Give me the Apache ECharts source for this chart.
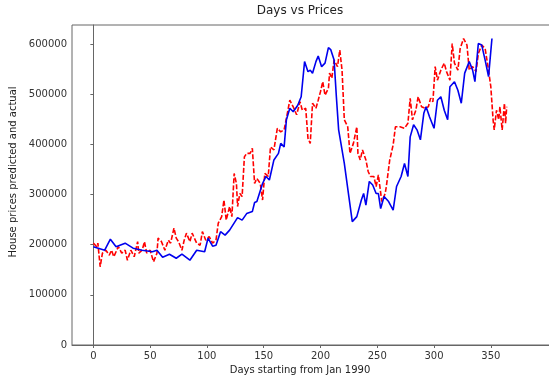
<!DOCTYPE html>
<html>
<head>
<meta charset="utf-8">
<script src="https://cdn.jsdelivr.net/npm/echarts@6/dist/echarts.min.js"></script>
<style>
html, body { margin: 0; padding: 0; background: #fff; }
#chart { width: 549px; height: 383px; }
</style>
</head>
<body>
<div id="chart"></div>
<script>
// [day, price]
var actualDays = [0, 10, 15, 20, 28, 35, 43, 52, 56, 61, 67, 73, 78, 85, 91, 98, 101, 105, 108, 112, 116, 120, 127, 131, 135, 140, 142, 144, 149, 152, 155, 159, 163, 165, 168, 170, 173, 176, 180, 183, 186, 189, 191, 193, 196, 198, 201, 204, 207, 209, 212, 214, 216, 221, 225, 228, 232, 236, 238, 240, 243, 246, 249, 251, 253, 256, 260, 264, 267, 271, 274, 277, 279, 282, 285, 288, 291, 293, 296, 300, 303, 306, 309, 312, 314, 318, 321, 324, 327, 331, 334, 336, 339, 342, 345, 348, 351];
var actualPrices = [196000, 189000, 211000, 196000, 203000, 193000, 189000, 186000, 189000, 175000, 181000, 173000, 181000, 169000, 189000, 186000, 213000, 197000, 199000, 226000, 219000, 229000, 254000, 249000, 262000, 266000, 284000, 286000, 322000, 336000, 329000, 369000, 382000, 402000, 395000, 449000, 472000, 465000, 478000, 495000, 565000, 545000, 548000, 542000, 565000, 576000, 555000, 562000, 593000, 589000, 568000, 495000, 429000, 362000, 296000, 246000, 256000, 289000, 302000, 279000, 326000, 319000, 302000, 302000, 272000, 296000, 286000, 269000, 316000, 336000, 362000, 336000, 415000, 439000, 429000, 409000, 462000, 475000, 455000, 432000, 488000, 495000, 468000, 449000, 515000, 525000, 508000, 482000, 542000, 565000, 548000, 525000, 601000, 598000, 568000, 535000, 611000];

var predictedDays = [0, 3, 4, 6, 8, 11, 14, 16, 18, 22, 25, 28, 30, 33, 36, 39, 40, 43, 45, 47, 50, 53, 56, 57, 60, 63, 66, 68, 71, 73, 75, 78, 80, 82, 85, 87, 91, 94, 96, 99, 102, 105, 108, 110, 113, 115, 117, 120, 122, 124, 126, 127, 129, 131, 133, 135, 138, 140, 142, 144, 147, 149, 151, 154, 156, 159, 162, 165, 168, 170, 173, 176, 179, 182, 184, 187, 189, 191, 193, 196, 198, 200, 202, 204, 207, 208, 210, 212, 215, 217, 219, 221, 224, 226, 229, 232, 233, 235, 237, 240, 242, 244, 247, 249, 251, 254, 257, 258, 261, 264, 266, 270, 274, 277, 279, 281, 284, 286, 289, 292, 295, 297, 299, 301, 303, 306, 309, 311, 314, 316, 318, 321, 323, 326, 329, 331, 334, 337, 339, 342, 345, 348, 350, 352, 353, 355, 357, 358, 360, 362, 363, 364];
var predictedPrices = [203000, 196000, 203000, 156000, 183000, 189000, 179000, 189000, 176000, 196000, 183000, 189000, 169000, 189000, 176000, 206000, 183000, 189000, 206000, 183000, 189000, 166000, 183000, 213000, 206000, 189000, 209000, 203000, 233000, 213000, 206000, 189000, 209000, 223000, 206000, 223000, 203000, 199000, 226000, 209000, 216000, 203000, 209000, 243000, 256000, 289000, 249000, 276000, 256000, 342000, 322000, 276000, 302000, 296000, 375000, 382000, 382000, 392000, 322000, 332000, 322000, 289000, 342000, 336000, 395000, 389000, 432000, 425000, 429000, 452000, 488000, 475000, 459000, 485000, 468000, 472000, 412000, 402000, 482000, 472000, 488000, 505000, 525000, 498000, 512000, 542000, 532000, 568000, 555000, 588000, 548000, 449000, 435000, 382000, 402000, 435000, 382000, 369000, 389000, 369000, 346000, 336000, 336000, 316000, 339000, 286000, 302000, 316000, 369000, 399000, 435000, 435000, 432000, 442000, 492000, 449000, 468000, 495000, 475000, 472000, 475000, 492000, 485000, 555000, 528000, 548000, 562000, 545000, 528000, 601000, 562000, 548000, 591000, 611000, 598000, 548000, 555000, 545000, 581000, 598000, 591000, 548000, 515000, 449000, 429000, 468000, 449000, 475000, 429000, 482000, 442000, 475000];

var xTicks = [0, 50, 100, 150, 200, 250, 300, 350];
var yTicks = [0, 100000, 200000, 300000, 400000, 500000, 600000];

function pairs(xs, ys) {
    return xs.map(function (x, i) { return [x, ys[i]]; });
}

var myChart = echarts.init(document.getElementById('chart'));

var option = {
    backgroundColor: '#fff',
    animation: false,
    textStyle: { fontFamily: 'DejaVu Sans' },
    title: {
        text: 'Days vs Prices',
        left: 300,
        top: 5,
        padding: 0,
        textAlign: 'center',
        textStyle: { fontSize: 12, fontWeight: 'normal', color: '#222', fontFamily: 'DejaVu Sans' }
    },
    grid: {
        left: 72,
        top: 25,
        right: -2,
        bottom: 38,
        show: true,
        borderColor: '#666',
        borderWidth: 1,
        backgroundColor: 'transparent',
        outerBoundsMode: 'none'
    },
    xAxis: {
        type: 'value',
        min: -18.8,
        max: 403,
        name: 'Days starting from Jan 1990',
        nameLocation: 'middle',
        nameGap: 20,
        nameTextStyle: { fontSize: 10, color: '#222', padding: [0, 23, 0, 0] },
        axisLine: { show: true, lineStyle: { color: '#666', width: 1 } },
        axisTick: { show: true, length: 3, customValues: xTicks, lineStyle: { color: '#666' } },
        axisLabel: { customValues: xTicks, fontSize: 10, color: '#333', margin: 6 },
        splitLine: { show: false }
    },
    yAxis: {
        type: 'value',
        min: 0,
        max: 638000,
        name: 'House prices predicted and actual',
        nameLocation: 'middle',
        nameGap: 50,
        nameTextStyle: { fontSize: 10, color: '#222', padding: [0, 0, 0, 26] },
        axisLine: { show: true, lineStyle: { color: '#666', width: 1 } },
        axisTick: { show: true, length: 3, customValues: yTicks, lineStyle: { color: '#666' } },
        axisLabel: {
            customValues: yTicks,
            fontSize: 10,
            color: '#333',
            margin: 5,
            formatter: function (v) { return String(v); }
        },
        splitLine: { show: false }
    },
    series: [
        {
            name: 'predicted',
            type: 'line',
            data: pairs(predictedDays, predictedPrices),
            showSymbol: false,
            symbol: 'none',
            lineStyle: { color: '#ff0000', width: 1.6, type: [5, 2] }
        },
        {
            name: 'actual',
            type: 'line',
            data: pairs(actualDays, actualPrices),
            showSymbol: false,
            symbol: 'none',
            lineStyle: { color: '#0000ee', width: 1.6 }
        }
    ]
};

myChart.setOption(option);
</script>
</body>
</html>
